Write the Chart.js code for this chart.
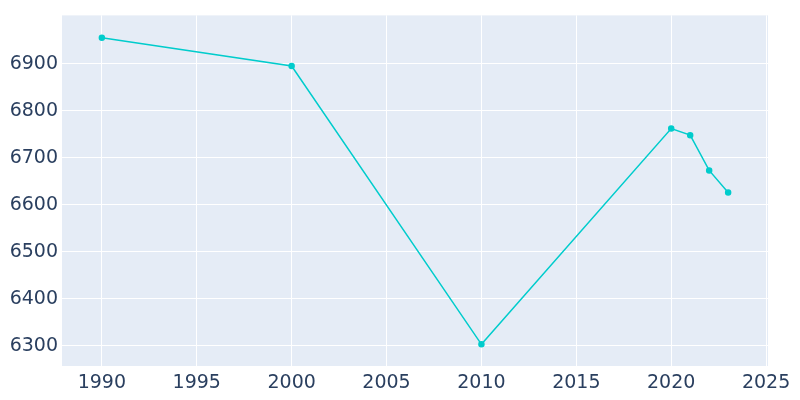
<!DOCTYPE html>
<html>
<head>
<script src="https://cdn.jsdelivr.net/npm/chart.js@4"></script>
<style>body{margin:0;background:#fff}#wrap{width:800px;height:400px}</style>
</head>
<body>
<div id="wrap"><canvas id="c"></canvas></div>
<script>
const years = [1990, 2000, 2010, 2020, 2021, 2022, 2023];
const population = [6955, 6895, 6303, 6762, 6748, 6673, 6626];
const xTicks = [1990, 1995, 2000, 2005, 2010, 2015, 2020, 2025];
const yTicks = [6300, 6400, 6500, 6600, 6700, 6800, 6900];

const bgPlugin = {
    id: 'bg',
    beforeDraw(chart) {
        const a = chart.chartArea, ctx = chart.ctx;
        ctx.save();
        ctx.fillStyle = '#e5ecf6';
        ctx.fillRect(a.left, a.top, a.right - a.left, a.bottom - a.top);
        ctx.restore();
    }
};

new Chart(document.getElementById('c'), {
    type: 'line',
    data: {
        datasets: [{
            data: years.map((y, i) => ({ x: y, y: population[i] })),
            borderColor: '#00cccc',
            backgroundColor: '#00cccc',
            borderWidth: 1.5,
            pointRadius: 2.5,
            tension: 0
        }]
    },
    options: {
        responsive: true,
        maintainAspectRatio: false,
        animation: false,
        layout: { padding: { top: -9, right: 32 } },
        plugins: { legend: { display: false }, tooltip: { enabled: false } },
        scales: {
            x: {
                type: 'linear', min: 1987.9, max: 2025.1,
                afterBuildTicks: s => { s.ticks = xTicks.map(v => ({ value: v })); },
                afterFit: s => { s.height = 34; },
                grid: { color: '#ffffff', lineWidth: 1, drawTicks: false },
                border: { display: false },
                ticks: { color: '#2a3f5f', font: { size: 19, family: 'DejaVu Sans' }, padding: 6, maxRotation: 0, callback: v => String(v) }
            },
            y: {
                min: 6256.9, max: 7002.7,
                afterBuildTicks: s => { s.ticks = yTicks.map(v => ({ value: v })); },
                afterFit: s => { s.width = 62; },
                grid: { color: '#ffffff', lineWidth: 1, drawTicks: false },
                border: { display: false },
                ticks: { color: '#2a3f5f', font: { size: 19, family: 'DejaVu Sans' }, padding: 4, callback: v => String(v) }
            }
        }
    },
    plugins: [bgPlugin]
});
</script>
</body>
</html>
